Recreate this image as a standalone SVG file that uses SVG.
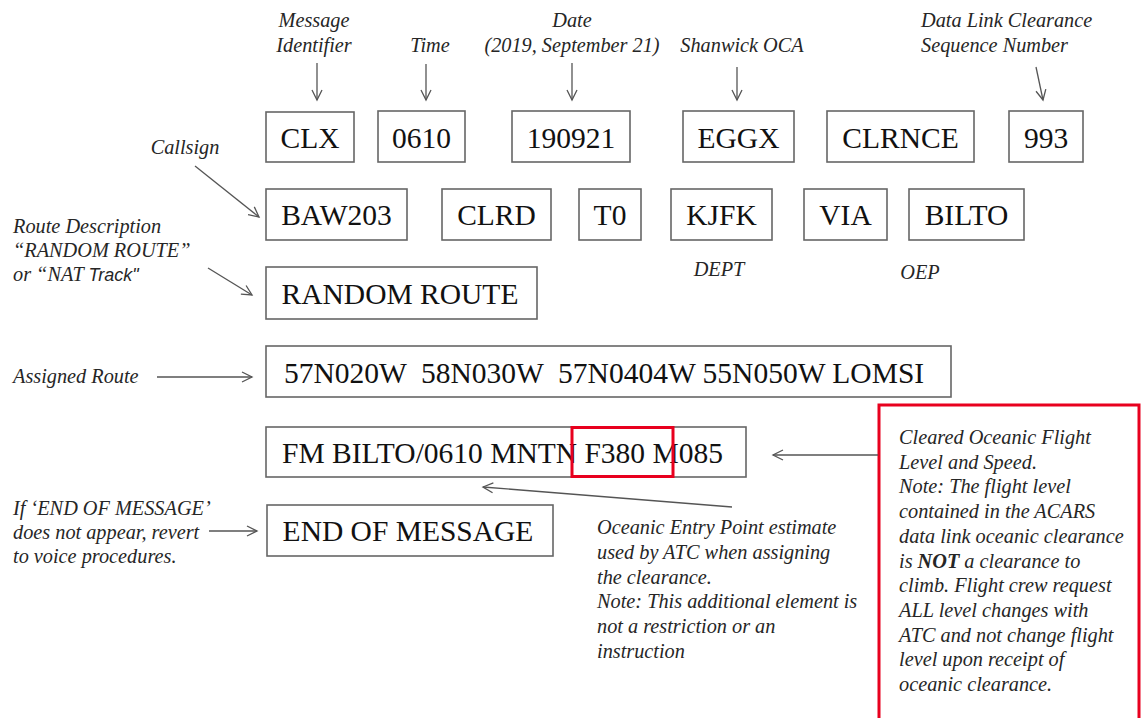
<svg xmlns="http://www.w3.org/2000/svg" width="1141" height="718" viewBox="0 0 1141 718">
<style>
.box{fill:#fff;stroke:#666;stroke-width:1.6}
.bt{font-family:"Liberation Serif","Times New Roman",serif;font-size:29.5px;fill:#111;text-anchor:middle}
.lb{font-family:"Liberation Serif","Times New Roman",serif;font-size:20.3px;font-style:italic;fill:#262626}
.c{text-anchor:middle}
.ar{fill:none;stroke:#555;stroke-width:1.3;marker-end:url(#ah)}
.red{fill:none;stroke:#e8001e;stroke-width:3}
</style>
<defs>
<marker id="ah" markerUnits="userSpaceOnUse" markerWidth="14" markerHeight="14" refX="11" refY="6" orient="auto"><path d="M1,1 L11,6 L1,11" fill="none" stroke="#555" stroke-width="1.3"/></marker>
</defs>
<rect width="1141" height="718" fill="#fff"/>

<g id="labels-top">
<text class="lb c" x="314" y="27">Message</text>
<text class="lb c" x="314" y="52">Identifier</text>
<text class="lb c" x="430" y="52">Time</text>
<text class="lb c" x="572" y="27">Date</text>
<text class="lb c" x="572" y="52">(2019, September 21)</text>
<text class="lb c" x="742" y="52">Shanwick OCA</text>
<text class="lb" x="921" y="27">Data Link Clearance</text>
<text class="lb" x="921" y="52">Sequence Number</text>
</g>

<g id="labels-left">
<text class="lb c" x="185" y="154">Callsign</text>
<text class="lb" x="13" y="233">Route Description</text>
<text class="lb" x="13" y="257">“RANDOM ROUTE”</text>
<text class="lb" x="13" y="281">or “NAT <tspan style="font-family:'Liberation Sans',Arial,sans-serif;font-size:18px">Track"</tspan></text>
<text class="lb" x="13" y="383">Assigned Route</text>
<text class="lb" x="13" y="515">If ‘END OF MESSAGE’</text>
<text class="lb" x="13" y="539">does not appear, revert</text>
<text class="lb" x="13" y="563">to voice procedures.</text>
<text class="lb c" x="719" y="276">DEPT</text>
<text class="lb c" x="920" y="279">OEP</text>
</g>

<g id="n-clx"><rect class="box" x="266" y="112" width="88" height="50"/><text class="bt" x="310" y="148">CLX</text></g>
<g id="n-0610"><rect class="box" x="378" y="111" width="87" height="51"/><text class="bt" x="421.5" y="148">0610</text></g>
<g id="n-190921"><rect class="box" x="512" y="111" width="118" height="51"/><text class="bt" x="571" y="148">190921</text></g>
<g id="n-eggx"><rect class="box" x="683" y="111" width="111" height="51"/><text class="bt" x="738.5" y="148">EGGX</text></g>
<g id="n-clrnce"><rect class="box" x="827" y="111" width="147" height="51"/><text class="bt" x="900.5" y="148">CLRNCE</text></g>
<g id="n-993"><rect class="box" x="1009" y="111" width="74" height="51"/><text class="bt" x="1046" y="148">993</text></g>

<g id="n-baw203"><rect class="box" x="266" y="189" width="141" height="51"/><text class="bt" x="336.5" y="225">BAW203</text></g>
<g id="n-clrd"><rect class="box" x="442" y="189" width="109" height="51"/><text class="bt" x="496.5" y="225">CLRD</text></g>
<g id="n-t0"><rect class="box" x="579" y="189" width="62" height="51"/><text class="bt" x="610" y="225">T0</text></g>
<g id="n-kjfk"><rect class="box" x="671" y="189" width="101" height="51"/><text class="bt" x="721.5" y="225">KJFK</text></g>
<g id="n-via"><rect class="box" x="804" y="189" width="83" height="51"/><text class="bt" x="845.5" y="225">VIA</text></g>
<g id="n-bilto"><rect class="box" x="909" y="189" width="115" height="51"/><text class="bt" x="966.5" y="225">BILTO</text></g>

<g id="n-random"><rect class="box" x="266" y="267" width="271" height="52"/><text class="bt" x="400" y="304">RANDOM ROUTE</text></g>
<g id="n-route"><rect class="box" x="266" y="346" width="685" height="51"/><text class="bt" x="604" y="383" xml:space="preserve">57N020W  58N030W  57N0404W 55N050W LOMSI</text></g>
<g id="n-fm"><rect class="box" x="266" y="427" width="480" height="50"/><text class="bt" x="502.5" y="463">FM BILTO/0610 MNTN F380 M085</text><rect class="red" x="572" y="427.5" width="101" height="49"/></g>
<g id="n-end"><rect class="box" x="267" y="505" width="286" height="51"/><text class="bt" x="408" y="541">END OF MESSAGE</text></g>

<g id="n-oep-note">
<text class="lb" x="597" y="534">Oceanic Entry Point estimate</text>
<text class="lb" x="597" y="558.8">used by ATC when assigning</text>
<text class="lb" x="597" y="583.6">the clearance.</text>
<text class="lb" x="597" y="608.4">Note: This additional element is</text>
<text class="lb" x="597" y="633.2">not a restriction or an</text>
<text class="lb" x="597" y="658">instruction</text>
</g>

<g id="n-fl-note">
<rect class="red" x="879" y="405" width="260" height="340"/>
<text class="lb" x="899" y="444">Cleared Oceanic Flight</text>
<text class="lb" x="899" y="468.7">Level and Speed.</text>
<text class="lb" x="899" y="493.4">Note: The flight level</text>
<text class="lb" x="899" y="518.1">contained in the ACARS</text>
<text class="lb" x="899" y="542.8">data link oceanic clearance</text>
<text class="lb" x="899" y="567.5">is <tspan font-weight="bold">NOT</tspan> a clearance to</text>
<text class="lb" x="899" y="592.2">climb. Flight crew request</text>
<text class="lb" x="899" y="616.9">ALL level changes with</text>
<text class="lb" x="899" y="641.6">ATC and not change flight</text>
<text class="lb" x="899" y="666.3">level upon receipt of</text>
<text class="lb" x="899" y="691">oceanic clearance.</text>
</g>

<g id="connectors">
<line class="ar" x1="317" y1="63" x2="317" y2="100"/>
<line class="ar" x1="426" y1="64" x2="426" y2="100"/>
<line class="ar" x1="572" y1="63" x2="572" y2="100"/>
<line class="ar" x1="737" y1="67" x2="737" y2="100"/>
<line class="ar" x1="1036" y1="67" x2="1043" y2="100"/>
<line class="ar" x1="195" y1="166" x2="259" y2="217"/>
<line class="ar" x1="208" y1="268" x2="252" y2="295"/>
<line class="ar" x1="157" y1="377" x2="252" y2="377"/>
<line class="ar" x1="209" y1="531" x2="257" y2="531"/>
<line class="ar" x1="878" y1="455" x2="773" y2="455"/>
<line class="ar" x1="732" y1="507" x2="483" y2="487"/>
</g>
</svg>
